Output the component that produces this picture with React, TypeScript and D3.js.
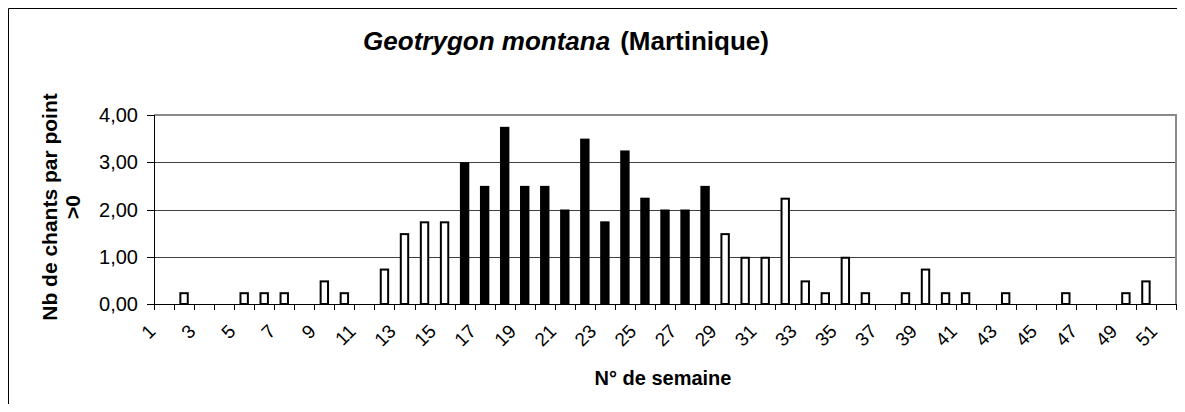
import React, { useEffect, useRef } from 'react';
import * as d3 from 'd3';

// week numbers on the x axis
const weeks = [
  1, 2, 3, 4, 5, 6, 7, 8, 9, 10, 11, 12, 13, 14, 15, 16, 17, 18, 19, 20, 21, 22, 23, 24, 25, 26,
  27, 28, 29, 30, 31, 32, 33, 34, 35, 36, 37, 38, 39, 40, 41, 42, 43, 44, 45, 46, 47, 48, 49, 50, 51,
];

// mean number of songs per point (>0), one per week
const values = [
  0, 0.25, 0, 0, 0.25, 0.25, 0.25, 0, 0.5, 0.25, 0, 0.75, 1.5, 1.75, 1.75, 3.0, 2.5, 3.75, 2.5, 2.5,
  2.0, 3.5, 1.75, 3.25, 2.25, 2.0, 2.0, 2.5, 1.5, 1.0, 1.0, 2.25, 0.5, 0.25, 1.0, 0.25, 0, 0.25, 0.75,
  0.25, 0.25, 0, 0.25, 0, 0, 0.25, 0, 0, 0.25, 0.5, 0,
];

// weeks drawn as filled (black) bars
const blackWeeks = [16, 17, 18, 19, 20, 21, 22, 23, 24, 25, 26, 27, 28];

const yTicks = [0, 1, 2, 3, 4];
const weekLabels = [1, 3, 5, 7, 9, 11, 13, 15, 17, 19, 21, 23, 25, 27, 29, 31, 33, 35, 37, 39, 41, 43, 45, 47, 49, 51];

const FONT = '"Liberation Sans", Arial, Helvetica, sans-serif';

export default function App() {
  const ref = useRef<SVGSVGElement>(null);

  useEffect(() => {
    const width = 1177;
    const height = 396;
    const margin = { top: 107, right: 9, bottom: 100, left: 146 };
    const svg = d3.select(ref.current);
    svg.selectAll('*').remove();

    const data = weeks.map((w, i) => ({ week: w, value: values[i] }));

    const x = d3
      .scaleBand<number>()
      .domain(weeks)
      .range([margin.left, width - margin.right])
      .padding(0);
    const step = x.step();
    const barW = 7.4;

    const y = d3
      .scaleLinear()
      .domain([0, 4])
      .range([height - margin.bottom, margin.top]);

    const fmt = (v: number) => d3.format('.2f')(v).replace('.', ',');

    // outer frame (only left and top edges fall inside the window)
    svg
      .append('path')
      .attr('d', `M0.5,${height}V0.5H${width}`)
      .attr('fill', 'none')
      .attr('stroke', 'black');

    // gridlines
    svg
      .append('g')
      .selectAll('line')
      .data(yTicks.filter((t) => t > 0 && t < 4))
      .join('line')
      .attr('x1', margin.left)
      .attr('x2', width - margin.right)
      .attr('y1', (d) => Math.round(y(d)) + 0.5)
      .attr('y2', (d) => Math.round(y(d)) + 0.5)
      .attr('stroke', '#404040');

    // plot area border (top / right)
    svg
      .append('path')
      .attr('d', `M${margin.left},${y(4)}H${width - margin.right}V${y(0)}`)
      .attr('fill', 'none')
      .attr('stroke', '#8a8a8a')
      .attr('stroke-width', 2);

    // bars
    svg
      .append('g')
      .selectAll('rect')
      .data(data.filter((d) => d.value > 0))
      .join('rect')
      .attr('x', (d) => (x(d.week) as number) + (step - barW) / 2)
      .attr('y', (d) => y(d.value) + 1)
      .attr('width', barW)
      .attr('height', (d) => y(0) - y(d.value) - 1)
      .attr('fill', (d) => (blackWeeks.includes(d.week) ? 'black' : 'white'))
      .attr('stroke', 'black')
      .attr('stroke-width', 2);

    // y axis
    const yAxis = svg.append('g');
    yAxis
      .append('line')
      .attr('x1', margin.left + 0.5)
      .attr('x2', margin.left + 0.5)
      .attr('y1', y(4))
      .attr('y2', y(0))
      .attr('stroke', 'black');
    yAxis
      .selectAll('.tick')
      .data(yTicks)
      .join('line')
      .attr('x1', margin.left - 7)
      .attr('x2', margin.left)
      .attr('y1', (d) => Math.round(y(d)) + 0.5)
      .attr('y2', (d) => Math.round(y(d)) + 0.5)
      .attr('stroke', 'black');
    yAxis
      .selectAll('text')
      .data(yTicks)
      .join('text')
      .attr('x', 130)
      .attr('y', (d) => y(d))
      .attr('text-anchor', 'end')
      .attr('dominant-baseline', 'central')
      .attr('font-family', FONT)
      .attr('font-size', 20)
      .text(fmt);

    // x axis
    const xAxis = svg.append('g');
    xAxis
      .append('line')
      .attr('x1', margin.left)
      .attr('x2', width - margin.right)
      .attr('y1', Math.round(y(0)) + 0.5)
      .attr('y2', Math.round(y(0)) + 0.5)
      .attr('stroke', 'black');
    const bounds = weeks.map((w) => x(w) as number).concat([width - margin.right]);
    xAxis
      .selectAll('.tick')
      .data(bounds)
      .join('line')
      .attr('x1', (d) => Math.round(d) + 0.5)
      .attr('x2', (d) => Math.round(d) + 0.5)
      .attr('y1', y(0))
      .attr('y2', y(0) + 6)
      .attr('stroke', 'black');
    xAxis
      .selectAll('text')
      .data(weekLabels)
      .join('text')
      .attr('transform', (d) => `translate(${(x(d) as number) + step / 2 - 12},320) rotate(-45)`)
      .attr('text-anchor', 'end')
      .attr('dominant-baseline', 'central')
      .attr('font-family', FONT)
      .attr('font-size', 19)
      .text((d) => d);

    // titles
    const title = svg
      .append('text')
      .attr('x', 558)
      .attr('y', 42)
      .attr('text-anchor', 'middle')
      .attr('font-family', FONT)
      .attr('font-size', 26)
      .attr('font-weight', 'bold');
    title.append('tspan').attr('font-style', 'italic').text('Geotrygon montana');
    title.append('tspan').attr('dx', 10).text('(Martinique)');

    svg
      .append('text')
      .attr('x', 655)
      .attr('y', 377)
      .attr('text-anchor', 'middle')
      .attr('font-family', FONT)
      .attr('font-size', 20)
      .attr('font-weight', 'bold')
      .text('N° de semaine');

    svg
      .append('text')
      .attr('transform', 'translate(49,199) rotate(-90)')
      .attr('text-anchor', 'middle')
      .attr('font-family', FONT)
      .attr('font-size', 21)
      .attr('font-weight', 'bold')
      .text('Nb de chants par point');
    svg
      .append('text')
      .attr('transform', 'translate(72,199) rotate(-90)')
      .attr('text-anchor', 'middle')
      .attr('font-family', FONT)
      .attr('font-size', 21)
      .attr('font-weight', 'bold')
      .text('>0');
  }, []);

  return <svg ref={ref} width={1177} height={396} style={{ display: 'block', overflow: 'hidden' }} />;
}
